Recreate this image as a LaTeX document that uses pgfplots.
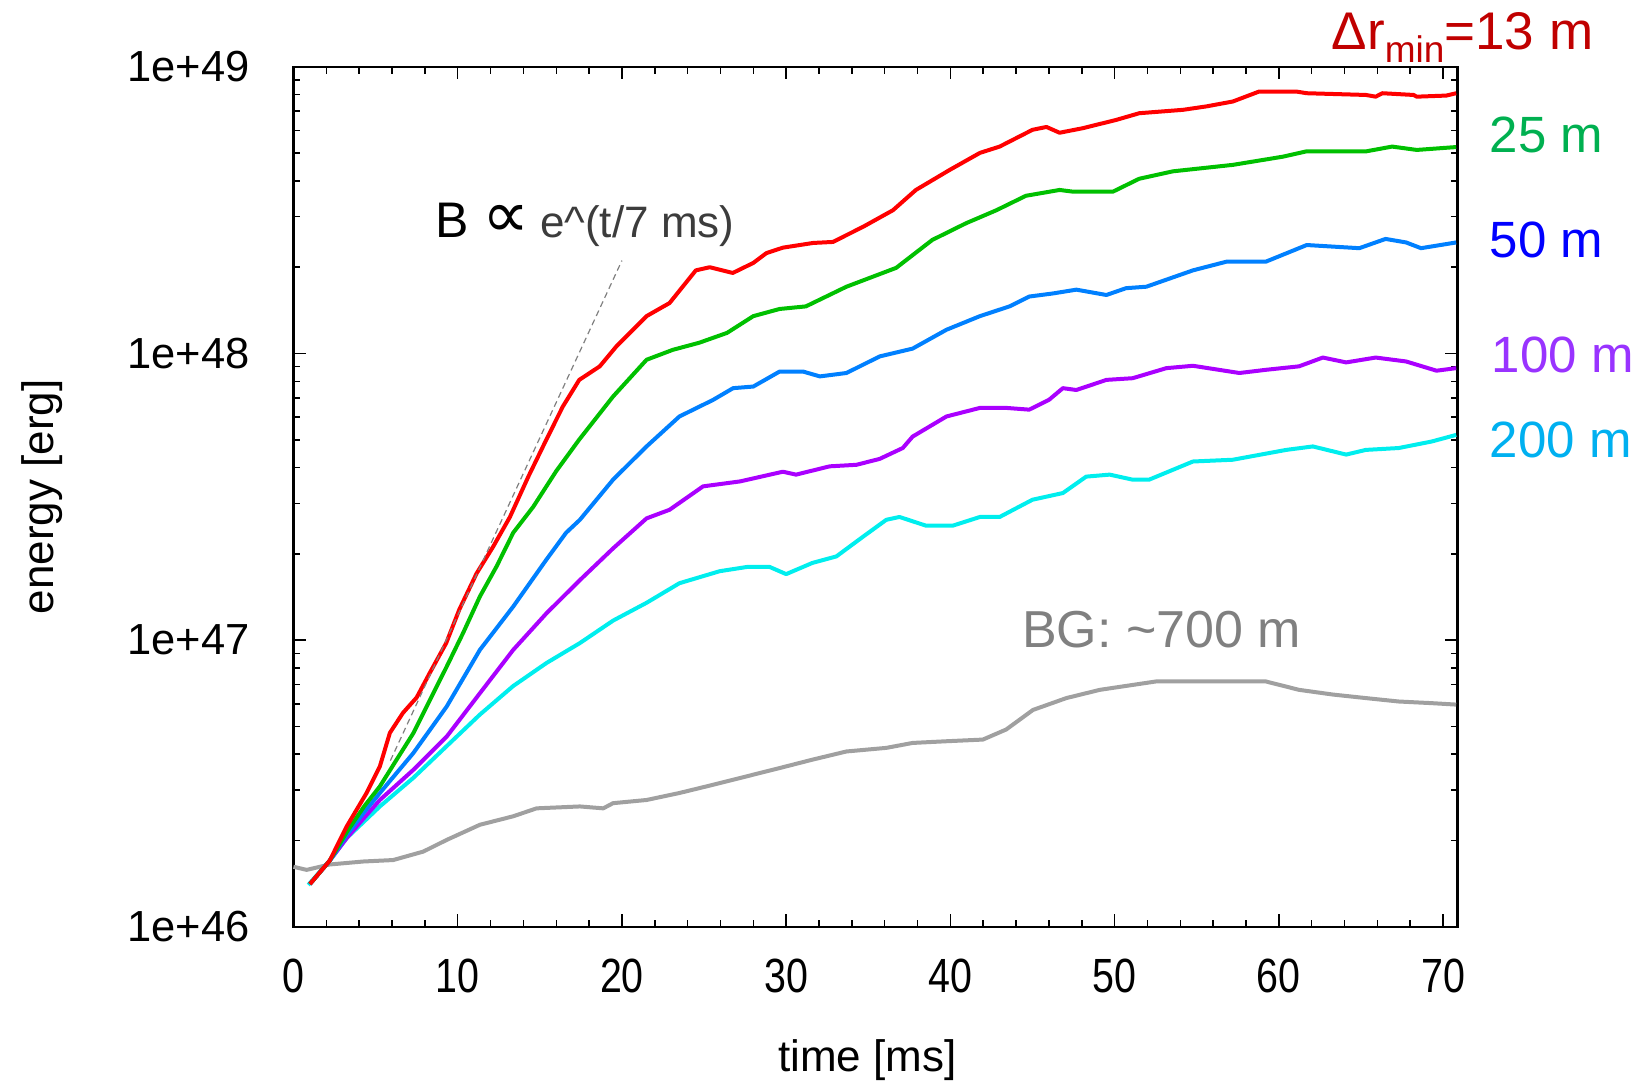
\documentclass[border=0pt]{standalone}
\usepackage{pgfplots}
\pgfplotsset{compat=1.18}
\usepackage{graphicx}
\usepackage{fontspec}
\setmainfont{Liberation Sans}
\newfontfamily\djv{DejaVu Sans}
\definecolor{cRed}{RGB}{255,0,0}
\definecolor{cGreen}{RGB}{0,192,0}
\definecolor{cBlue}{RGB}{0,128,255}
\definecolor{cPurple}{RGB}{170,0,255}
\definecolor{cCyan}{RGB}{0,238,238}
\definecolor{cGray}{RGB}{160,160,160}
\definecolor{tRed}{RGB}{192,0,0}
\definecolor{tGreen}{RGB}{0,176,80}
\definecolor{tBlue}{RGB}{0,0,255}
\definecolor{tPurple}{RGB}{153,51,255}
\definecolor{tCyan}{RGB}{0,176,240}
\definecolor{tGray}{RGB}{128,128,128}
\definecolor{tDark}{RGB}{60,60,60}
\newcommand{\xl}[1]{\scalebox{0.82}[1]{#1}}
\begin{document}
\begin{tikzpicture}
\useasboundingbox (-146.75pt,-77pt) rectangle (672.75pt,463.5pt);
\begin{axis}[
  at={(0,0)}, anchor=south west,
  scale only axis, width=582pt, height=430pt,
  ymode=log, xmin=0, xmax=70.88, ymin=1e46, ymax=1e49,
  xtick={0,10,20,30,40,50,60,70},
  xticklabels={\xl{0},\xl{10},\xl{20},\xl{30},\xl{40},\xl{50},\xl{60},\xl{70}},
  minor xtick={2,4,6,8,12,14,16,18,22,24,26,28,32,34,36,38,42,44,46,48,52,54,56,58,62,64,66,68},
  ytick={1e46,1e47,1e48,1e49},
  yticklabels={1e+46,1e+47,1e+48,1e+49},
  minor ytick={2e46,3e46,4e46,5e46,6e46,7e46,8e46,9e46,2e47,3e47,4e47,5e47,6e47,7e47,8e47,9e47,2e48,3e48,4e48,5e48,6e48,7e48,8e48,9e48},
  tick align=inside, xtick pos=both, ytick pos=both,
  major tick length=6.3pt, minor tick length=3.5pt,
  every tick/.style={black, line width=0.75pt},
  axis line style={line width=1.1pt},
  xticklabel style={font=\fontsize{24}{28}\selectfont, inner sep=0pt, anchor=north, yshift=-16pt},
  yticklabel style={font=\fontsize{21.75}{25}\selectfont, inner sep=0pt, anchor=east, xshift=-21.75pt},
  xlabel={time [ms]},
  xlabel style={at={(axis description cs:0.493,-0.1686)}, anchor=base, font=\fontsize{22}{26}\selectfont, inner sep=0pt},
  ylabel={energy [erg]},
  ylabel style={at={(axis description cs:-0.2058,0.5)}, anchor=base, font=\fontsize{22}{26}\selectfont, inner sep=0pt},
  clip=false,
  every axis plot/.append style={line width=2pt, line join=round},
]
% BG ~700 m
\addplot[cGray] coordinates {
(0,1.62e46) (0.8,1.58e46) (2.2,1.65e46) (4.25,1.69e46) (6.07,1.71e46) (7.9,1.83e46)
(9.33,2.01e46) (11.35,2.27e46) (13.38,2.43e46) (14.8,2.59e46) (17.44,2.63e46) (18.86,2.59e46)
(19.46,2.70e46) (21.5,2.77e46) (23.5,2.93e46) (25.55,3.13e46) (27.6,3.35e46) (29.6,3.58e46)
(31.6,3.83e46) (33.67,4.09e46) (36.1,4.21e46) (37.7,4.38e46) (39.76,4.44e46) (41.98,4.50e46)
(43.4,4.88e46) (45.03,5.71e46) (47.06,6.28e46) (49.1,6.71e46) (51.1,6.98e46) (52.54,7.18e46)
(59.2,7.18e46) (61.23,6.71e46) (63.3,6.46e46) (65.3,6.28e46) (67.3,6.11e46) (69.3,6.03e46) (70.8,5.96e46)
};
% 200 m
\addplot[cCyan] coordinates {
(0.9,1.40e46) (2.2,1.70e46) (3.24,2.04e46) (5.26,2.63e46) (7.3,3.31e46) (9.33,4.27e46)
(11.35,5.50e46) (13.38,6.92e46) (15.4,8.32e46) (17.44,9.77e46) (19.46,1.17e47) (21.5,1.35e47)
(23.5,1.58e47) (25.95,1.74e47) (27.6,1.80e47) (29.0,1.80e47) (30.0,1.70e47) (31.6,1.86e47)
(33.06,1.96e47) (34.7,2.30e47) (36.1,2.63e47) (36.9,2.69e47) (38.5,2.51e47) (40.16,2.51e47)
(41.8,2.69e47) (43.0,2.69e47) (45.0,3.09e47) (46.85,3.26e47) (48.27,3.72e47) (49.7,3.78e47)
(51.1,3.63e47) (52.1,3.63e47) (54.77,4.20e47) (57.2,4.26e47) (60.45,4.61e47) (62.07,4.74e47)
(64.1,4.44e47) (65.3,4.61e47) (67.3,4.68e47) (69.3,4.93e47) (70.8,5.20e47)
};
% 100 m
\addplot[cPurple] coordinates {
(1.0,1.41e46) (2.2,1.70e46) (3.24,2.04e46) (4.3,2.40e46) (5.26,2.77e46) (7.3,3.53e46)
(9.33,4.61e46) (11.35,6.53e46) (13.38,9.25e46) (15.4,1.24e47) (17.44,1.62e47) (19.46,2.09e47)
(21.5,2.66e47) (22.9,2.85e47) (24.94,3.44e47) (27.2,3.58e47) (29.8,3.87e47) (30.6,3.78e47)
(32.65,4.04e47) (34.28,4.09e47) (35.7,4.29e47) (37.1,4.68e47) (37.7,5.13e47) (39.76,6.03e47)
(41.8,6.46e47) (43.4,6.46e47) (44.8,6.37e47) (46.0,6.89e47) (46.85,7.57e47) (47.67,7.46e47)
(49.5,8.09e47) (51.1,8.20e47) (53.15,8.89e47) (54.77,9.06e47) (57.6,8.55e47) (59.2,8.77e47)
(61.23,9.02e47) (62.68,9.68e47) (64.1,9.31e47) (65.9,9.68e47) (67.75,9.38e47) (69.6,8.71e47) (70.8,8.89e47)
};
% 50 m
\addplot[cBlue] coordinates {
(1.0,1.41e46) (2.2,1.70e46) (3.24,2.09e46) (4.3,2.51e46) (5.26,2.93e46) (7.3,4.04e46)
(9.33,5.87e46) (11.35,9.25e46) (13.38,1.31e47) (15.4,1.91e47) (16.6,2.37e47) (17.44,2.63e47)
(19.46,3.63e47) (21.5,4.74e47) (23.5,6.03e47) (25.55,6.89e47) (26.77,7.57e47) (28.0,7.67e47)
(29.6,8.65e47) (31.03,8.65e47) (32.05,8.32e47) (33.67,8.55e47) (35.7,9.77e47) (37.7,1.04e48)
(39.76,1.21e48) (41.8,1.35e48) (43.6,1.46e48) (44.8,1.58e48) (46.25,1.62e48) (47.67,1.67e48)
(49.5,1.60e48) (50.7,1.69e48) (51.93,1.71e48) (54.77,1.95e48) (56.8,2.09e48) (59.2,2.09e48)
(61.7,2.39e48) (64.9,2.33e48) (66.5,2.51e48) (67.75,2.44e48) (68.66,2.33e48) (70.8,2.44e48)
};
% 25 m
\addplot[cGreen] coordinates {
(1.0,1.41e46) (2.2,1.70e46) (3.24,2.14e46) (4.3,2.63e46) (5.26,3.09e46) (6.28,3.83e46)
(7.3,4.74e46) (8.3,6.17e46) (9.33,8.09e46) (10.33,1.06e47) (11.35,1.42e47) (12.37,1.81e47)
(13.38,2.37e47) (14.6,2.92e47) (16.0,3.89e47) (17.4,5.01e47) (19.46,7.08e47) (21.5,9.51e47)
(23.1,1.03e48) (24.7,1.09e48) (26.4,1.18e48) (28.0,1.35e48) (29.6,1.43e48) (31.2,1.46e48)
(33.67,1.71e48) (36.7,1.99e48) (38.9,2.49e48) (40.97,2.85e48) (42.8,3.16e48) (44.6,3.55e48)
(46.65,3.72e48) (47.45,3.67e48) (49.9,3.67e48) (51.5,4.07e48) (53.55,4.32e48) (57.2,4.55e48)
(60.25,4.86e48) (61.67,5.07e48) (65.3,5.07e48) (66.9,5.27e48) (68.4,5.13e48) (70.8,5.25e48)
};
% 13 m
\addplot[cRed] coordinates {
(1.0,1.41e46) (2.2,1.70e46) (3.24,2.24e46) (4.45,2.93e46) (5.26,3.63e46) (5.87,4.75e46)
(6.67,5.58e46) (7.5,6.31e46) (8.3,7.69e46) (9.3,9.77e46) (10.1,1.28e47) (11.15,1.71e47)
(12.16,2.12e47) (13.18,2.69e47) (14.3,3.72e47) (15.4,5.01e47) (16.4,6.53e47) (17.4,8.09e47)
(18.65,9.02e47) (19.67,1.06e48) (21.5,1.35e48) (22.9,1.50e48) (24.5,1.95e48) (25.35,2.00e48)
(26.75,1.91e48) (28.0,2.07e48) (28.8,2.24e48) (29.8,2.34e48) (31.64,2.43e48) (32.85,2.45e48)
(34.7,2.77e48) (36.5,3.16e48) (37.9,3.72e48) (39.96,4.37e48) (41.8,5.01e48) (43.0,5.27e48)
(45.0,6.03e48) (45.85,6.17e48) (46.65,5.89e48) (48.07,6.11e48) (50.1,6.53e48) (51.5,6.89e48)
(54.16,7.08e48) (55.6,7.28e48) (57.2,7.57e48) (58.8,8.20e48) (61.06,8.20e48) (61.7,8.09e48)
(65.3,7.98e48) (65.9,7.87e48) (66.3,8.09e48) (68.2,7.98e48) (68.4,7.87e48) (70.2,7.94e48) (70.8,8.09e48)
};
% exponential guide
\addplot[line width=0.6pt, gray, densely dashed] coordinates {(5.9,3.8e46) (20,2.11e48)};
% annotations
\node[anchor=base west, inner sep=0pt, text=tRed, font=\fontsize{26.5}{30}\selectfont]
  at (axis cs:63.2,1.146e49) {Δr\raisebox{-6.5pt}{\fontsize{18.5}{20}\selectfont min}=13 m};
\node[anchor=base west, inner sep=0pt, text=tGreen, font=\fontsize{25.5}{30}\selectfont]
  at (axis cs:72.83,5.01e48) {25 m};
\node[anchor=base west, inner sep=0pt, text=tBlue, font=\fontsize{25.5}{30}\selectfont]
  at (axis cs:72.83,2.17e48) {50 m};
\node[anchor=base west, inner sep=0pt, text=tPurple, font=\fontsize{25.5}{30}\selectfont]
  at (axis cs:72.95,8.57e47) {100 m};
\node[anchor=base west, inner sep=0pt, text=tCyan, font=\fontsize{25.5}{30}\selectfont]
  at (axis cs:72.83,4.33e47) {200 m};
\node[anchor=base west, inner sep=0pt, text=tGray, font=\fontsize{26}{30}\selectfont]
  at (axis cs:44.34,9.40e46) {BG: \char"007E 700 m};
\node[anchor=base west, inner sep=0pt, text=black, font=\fontsize{25}{30}\selectfont]
  at (axis cs:8.61,2.533e48) {B {\fontsize{33}{36}\selectfont\djv ∝}};
\node[anchor=base west, inner sep=0pt, text=tDark, font=\fontsize{22}{26}\selectfont]
  at (axis cs:15.0,2.533e48) {e\textasciicircum(t/7 ms)};
\end{axis}
\end{tikzpicture}
\end{document}
